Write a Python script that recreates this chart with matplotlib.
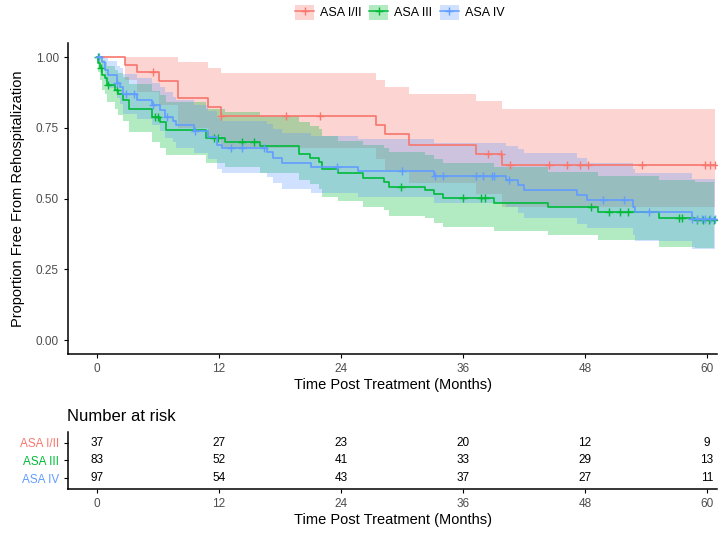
import numpy as np
import matplotlib
matplotlib.use("Agg")
import matplotlib.pyplot as plt
from matplotlib.patches import Patch
from matplotlib.lines import Line2D

plt.rcParams['font.family'] = ['Liberation Sans', 'DejaVu Sans']

groups = ["ASA I/II", "ASA III", "ASA IV"]
colors = ["#F8766D", "#00BA38", "#619CFF"]

# ASA I/II
t_red = [0, 2.75, 3.9, 6.1, 8.0, 10.9, 12.2, 27.4, 28.3, 30.7, 37.3, 39.8]
s_red = [1.0, 0.972, 0.946, 0.915, 0.854, 0.824, 0.793, 0.760, 0.727, 0.689, 0.657, 0.618]
u_red = [1.0, 1.0, 1.0, 1.0, 0.983, 0.962, 0.942, 0.918, 0.895, 0.871, 0.845, 0.816]
l_red = [1.0, 0.92, 0.875, 0.83, 0.75, 0.72, 0.68, 0.64, 0.60, 0.555, 0.515, 0.47]
c_red = [5.5, 12.2, 18.6, 21.9, 38.5, 39.7, 40.6, 44.5, 46.2, 47.5, 48.3, 53.6, 59.8, 60.3, 60.8]

# ASA III
t_green = [0, 0.15, 0.3, 0.5, 0.8, 1.0, 1.8, 2.1, 2.6, 3.2, 5.4, 6.2, 6.8, 10.7, 12.6, 16.0,
           19.9, 21.0, 21.8, 22.1, 23.7, 26.2, 28.2, 28.7, 32.3, 33.1, 34.0, 39.0, 44.4, 49.3, 55.3, 58.8]
s_green = [1.0, 0.978, 0.960, 0.936, 0.925, 0.903, 0.883, 0.868, 0.850, 0.818, 0.789, 0.769, 0.742,
           0.713, 0.701, 0.684, 0.659, 0.644, 0.630, 0.604, 0.589, 0.571, 0.560, 0.542, 0.530, 0.515,
           0.501, 0.485, 0.469, 0.454, 0.432, 0.425]
u_green = [1.0, 1.0, 1.0, 0.99, 0.983, 0.97, 0.955, 0.945, 0.93, 0.905, 0.88, 0.865, 0.84,
           0.815, 0.805, 0.79, 0.77, 0.755, 0.745, 0.72, 0.705, 0.69, 0.68, 0.665, 0.655, 0.64,
           0.625, 0.61, 0.595, 0.58, 0.565, 0.56]
l_green = [1.0, 0.946, 0.92, 0.885, 0.87, 0.84, 0.815, 0.795, 0.775, 0.735, 0.70, 0.68, 0.655,
           0.625, 0.61, 0.59, 0.565, 0.55, 0.535, 0.505, 0.49, 0.47, 0.46, 0.44, 0.43, 0.415,
           0.40, 0.385, 0.37, 0.355, 0.33, 0.325]
c_green = [0.1, 0.4, 1.1, 2.0, 5.7, 6.0, 11.5, 11.9, 14.3, 15.4, 29.9, 36.0, 37.8, 38.2, 48.6,
           50.4, 51.4, 52.2, 57.2, 57.5, 59.0, 59.6, 60.2, 60.7]

# ASA IV
t_blue = [0, 0.46, 0.79, 1.11, 1.93, 2.26, 2.59, 3.9, 5.4, 6.2, 6.7, 7.5, 7.8, 9.5, 10.9, 11.8,
          12.3, 16.7, 17.3, 18.2, 21.1, 25.7, 33.1, 40.2, 41.4, 42.0, 47.2, 48.2, 52.7, 52.9, 58.5]
s_blue = [1.0, 0.983, 0.954, 0.936, 0.910, 0.895, 0.868, 0.848, 0.830, 0.813, 0.789, 0.774, 0.760,
          0.739, 0.719, 0.689, 0.677, 0.663, 0.642, 0.624, 0.612, 0.598, 0.580, 0.567, 0.548, 0.530,
          0.512, 0.495, 0.471, 0.454, 0.428]
u_blue = [1.0, 1.0, 0.995, 0.985, 0.97, 0.96, 0.94, 0.925, 0.91, 0.895, 0.875, 0.86, 0.85,
          0.83, 0.81, 0.785, 0.775, 0.765, 0.745, 0.73, 0.72, 0.71, 0.695, 0.685, 0.675, 0.66,
          0.645, 0.625, 0.605, 0.59, 0.57]
l_blue = [1.0, 0.96, 0.915, 0.89, 0.855, 0.835, 0.80, 0.78, 0.76, 0.74, 0.715, 0.70, 0.68,
          0.66, 0.64, 0.605, 0.59, 0.575, 0.555, 0.535, 0.52, 0.505, 0.485, 0.47, 0.45, 0.43,
          0.41, 0.395, 0.37, 0.35, 0.32]
c_blue = [0.2, 1.93, 2.9, 3.6, 5.5, 6.85, 9.6, 13.2, 14.3, 16.4, 23.6, 29.96, 33.2, 34.0, 37.3,
          38.0, 38.9, 39.0, 40.5, 49.8, 51.8, 54.3, 58.5, 59.0, 59.5, 59.8, 60.3, 60.8]

risk_times = [0, 12, 24, 36, 48, 60]
risk_red = [37, 27, 23, 20, 12, 9]
risk_green = [83, 52, 41, 33, 29, 13]
risk_blue = [97, 54, 43, 37, 27, 11]

y_ticks = [0.00, 0.25, 0.50, 0.75, 1.00]
x_ticks = [0, 12, 24, 36, 48, 60]

series = [
    (t_red, s_red, u_red, l_red, c_red),
    (t_green, s_green, u_green, l_green, c_green),
    (t_blue, s_blue, u_blue, l_blue, c_blue),
]

fig = plt.figure(figsize=(7.23, 5.33), dpi=100)
ax = fig.add_axes([0.094, 0.3355, 0.898, 0.584])
XLIM = (-2.85, 61.0)

for (t, s, u, l, c), col in zip(series, colors):
    end = max(max(c), t[-1])
    tt = np.array(list(t) + [end])
    uu = np.array(list(u) + [u[-1]])
    ll = np.array(list(l) + [l[-1]])
    ax.fill_between(tt, ll, uu, step='post', color=col, alpha=0.3, lw=0)
for (t, s, u, l, c), col in zip(series, colors):
    end = max(max(c), t[-1])
    tt = np.array(list(t) + [end])
    ss = np.array(list(s) + [s[-1]])
    ax.step(tt, ss, where='post', color=col, lw=1.2)
    idx = np.searchsorted(np.array(t), np.array(c), side='right') - 1
    ax.plot(c, np.array(s)[idx], ls='none', marker='+', ms=6, mew=1.0, color=col)

ax.set_xlim(*XLIM)
ax.set_ylim(-0.05, 1.05)
ax.set_xticks(x_ticks)
ax.set_yticks(y_ticks)
ax.set_yticklabels([f"{v:.2f}" for v in y_ticks])
for sp in ['top', 'right']:
    ax.spines[sp].set_visible(False)
for sp in ['left', 'bottom']:
    ax.spines[sp].set_linewidth(1.1)
ax.tick_params(axis='both', labelsize=8.5, colors='#4D4D4D', length=3, width=0.8)
ax.tick_params(axis='both', color='black')
ax.set_xlabel("Time Post Treatment (Months)", fontsize=10.5, labelpad=2)
ax.set_ylabel("Proportion Free From Rehospitalization", fontsize=10.5, labelpad=8)

handles = [(Patch(facecolor=col, alpha=0.3, edgecolor='none'),
            Line2D([0], [0], color=col, lw=1.1, marker='+', ms=6)) for col in colors]
fig.legend(handles, groups, loc='center', bbox_to_anchor=(0.553, 0.977), ncol=3, frameon=False,
           fontsize=9, handlelength=1.5, handleheight=1.5, columnspacing=0.6, handletextpad=0.5)

# risk table
rax = fig.add_axes([0.094, 0.0826, 0.898, 0.107])
rax.set_xlim(*XLIM)
rax.set_ylim(0.4, 3.6)
for row, vals in zip([3, 2, 1], [risk_red, risk_green, risk_blue]):
    for tm, v in zip(risk_times, vals):
        rax.text(tm, row, str(v), ha='center', va='center', fontsize=8.5, color='black')
rax.set_yticks([3, 2, 1])
rax.set_yticklabels(groups)
for lab, col in zip(rax.get_yticklabels(), colors):
    lab.set_color(col)
rax.set_xticks(x_ticks)
for sp in ['top', 'right']:
    rax.spines[sp].set_visible(False)
for sp in ['left', 'bottom']:
    rax.spines[sp].set_linewidth(1.1)
rax.tick_params(axis='both', labelsize=8.5, length=3, width=0.8)
rax.tick_params(axis='x', labelcolor='#4D4D4D')
rax.set_xlabel("Time Post Treatment (Months)", fontsize=10.5, labelpad=2)
rax.set_title("Number at risk", loc='left', fontsize=12, pad=8, x=-0.002)

fig.savefig("out.png", dpi=100)
